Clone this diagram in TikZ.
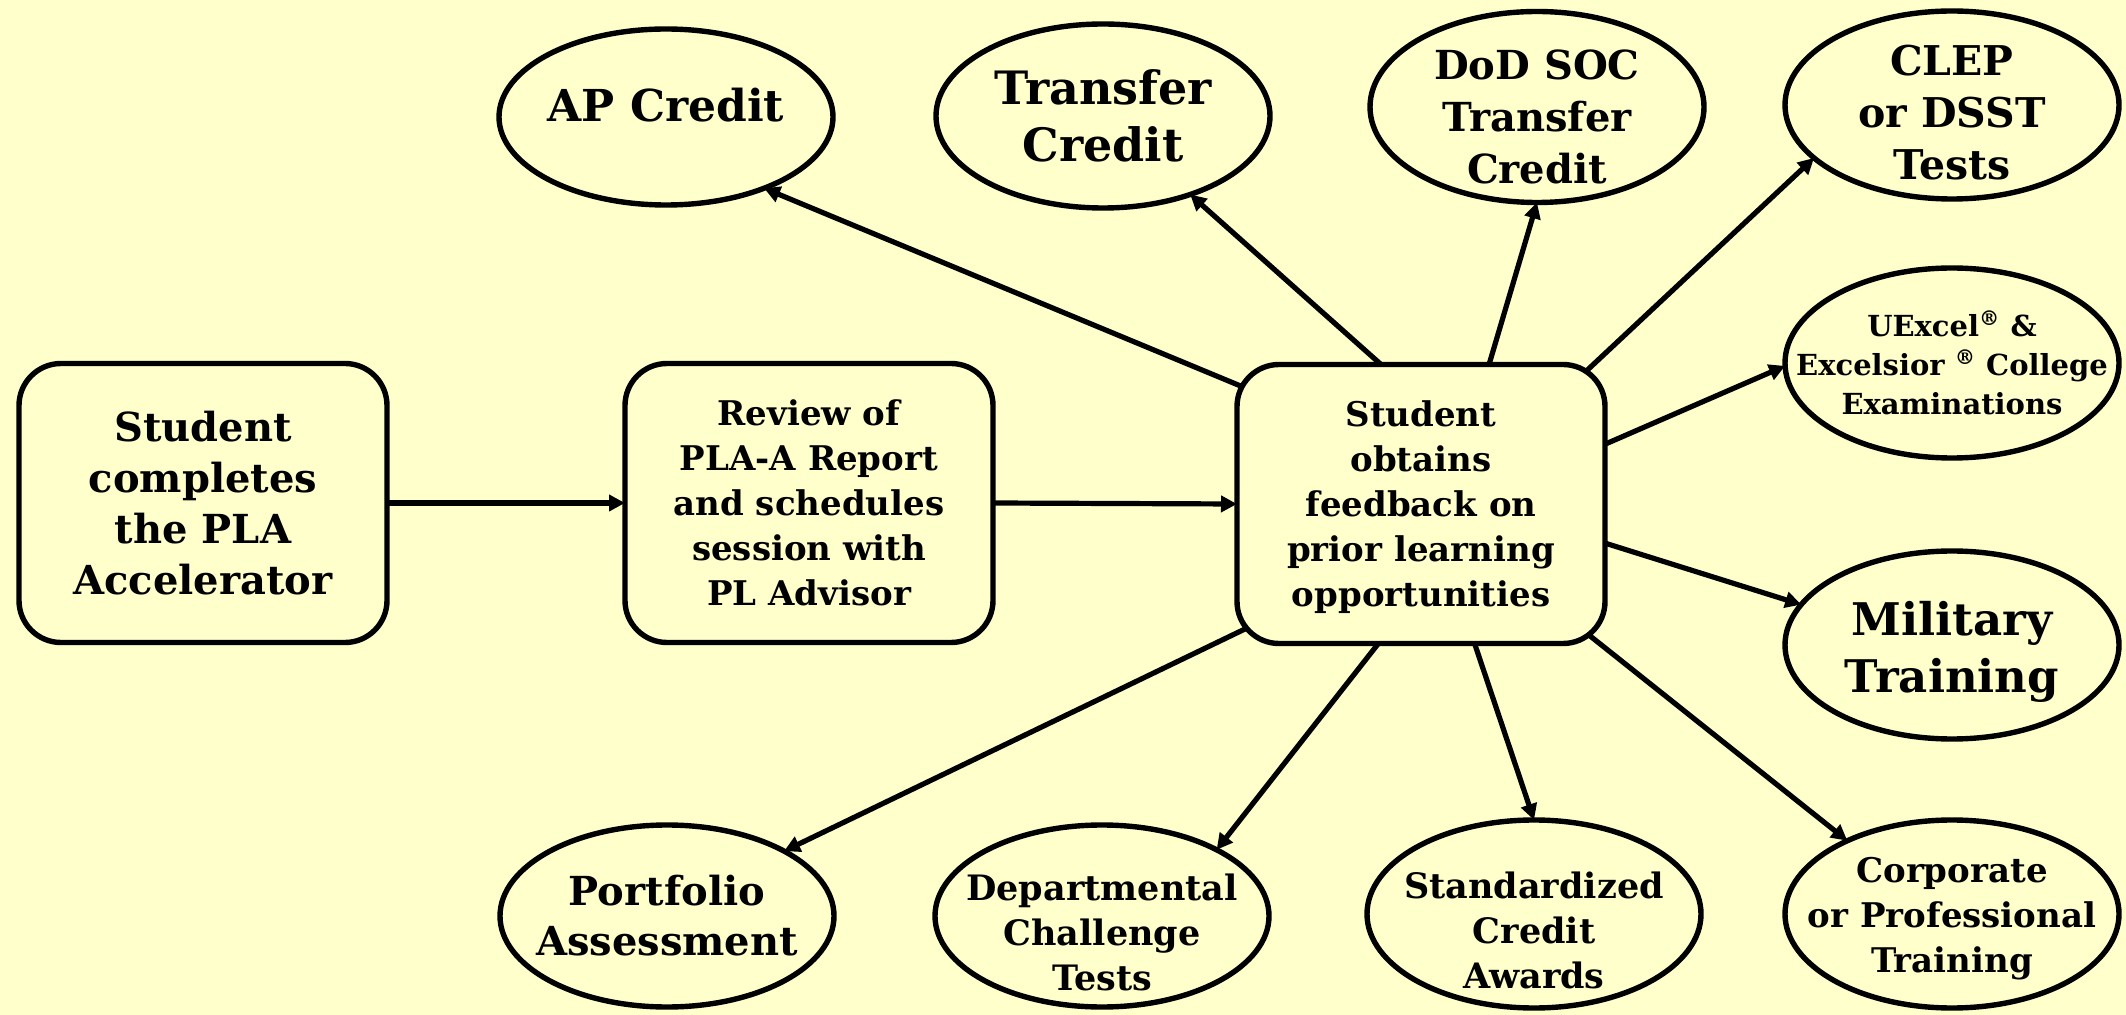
\documentclass[tikz,border=0pt]{standalone}
\usepackage{fontspec}
\setmainfont{DejaVu Serif}
\usetikzlibrary{shapes.geometric,arrows.meta,backgrounds}
\definecolor{bg}{HTML}{FFFFCC}
\newcommand{\fsz}[2]{\fontsize{#1pt}{#2pt}\selectfont\bfseries}
\begin{document}
\begin{tikzpicture}[x=0.5pt,y=-0.5pt,
  box/.style={draw, line width=2.7pt, rounded corners=21pt, fill=bg,
    minimum width=184pt, minimum height=139.5pt, inner sep=0pt, outer sep=0pt, align=center},
  oval/.style={ellipse, draw, line width=2.7pt, fill=bg,
    minimum width=167pt, inner sep=0pt, outer sep=0pt},
  lab/.style={align=center, inner sep=0pt},
  arr/.style={line width=2.6pt, -{Triangle[length=8pt,width=8pt]}},
  harr/.style={arr, shorten <=-12pt},
  ]
\useasboundingbox (0,0) rectangle (2126,1015);
% boxes
\node[box, font=\fsz{20}{25.5}] (b1) at (203,503) {Student\\completes\\the PLA\\Accelerator};
\node[box, font=\fsz{17}{22.5}] (b2) at (809,503) {Review of\\PLA-A Report\\and schedules\\session with\\PL Advisor};
\node[box, font=\fsz{17}{22.5}, text depth=0pt] (b3) at (1421,504) {\raisebox{0pt}{}\vspace{0pt}Student\\obtains\\feedback on\\prior learning\\opportunities};
% ovals
\node[oval, minimum height=88pt, label={[lab, font=\fsz{22}{28}, yshift=6pt]center:AP Credit}] (ap) at (666,117) {};
\node[oval, minimum height=92pt, label={[lab, font=\fsz{23}{28.5}]center:{Transfer\\Credit}}] (tr) at (1103,116) {};
\node[oval, minimum height=95.5pt, label={[lab, font=\fsz{20}{26}, yshift=-5pt]center:{DoD SOC\\Transfer\\Credit}}] (dod) at (1537,107) {};
\node[oval, minimum height=94pt, label={[lab, font=\fsz{20.5}{26}, yshift=-4pt]center:{CLEP\\or DSST\\Tests}}] (clep) at (1952,105) {};
\node[oval, minimum height=95pt, label={[lab, font=\fsz{14.5}{19.5}]center:{UExcel\textsuperscript{®} \&\\Excelsior \textsuperscript{®} College\\Examinations}}] (ux) at (1952,363) {};
\node[oval, minimum height=94pt, label={[lab, font=\fsz{22.5}{28.5}, yshift=-3.5pt]center:{Military\\Training}}] (mil) at (1952,645) {};
\node[oval, minimum height=94pt, label={[lab, font=\fsz{17}{22.5}, yshift=-2.5pt]center:{Corporate\\or Professional\\Training}}] (corp) at (1952,914) {};
\node[oval, minimum height=94pt, label={[lab, font=\fsz{17.5}{22.5}, yshift=-8pt]center:{Standardized\\Credit\\Awards}}] (std) at (1534,914) {};
\node[oval, minimum height=91pt, label={[lab, font=\fsz{17.5}{22.5}, yshift=-8pt]center:{Departmental\\Challenge\\Tests}}] (dep) at (1102,916) {};
\node[oval, minimum height=91pt, label={[lab, font=\fsz{20}{25}]center:{Portfolio\\Assessment}}] (port) at (667,916) {};
% connectors
\begin{scope}[on background layer]
\fill[bg] (0,0) rectangle (2126,1015);
\draw[arr] (b1.east) -- (b2.west);
\draw[arr] (b2.east) -- (b3.west);
\draw[harr] (b3.147) -- (ap.-36);
\draw[harr] (b3.106) -- (tr.-42);
\draw[harr] (b3.64) -- (dod.-90);
\draw[harr] (b3.39) -- (clep.-159);
\draw[harr] (b3.18) -- (ux.181);
\draw[harr] (b3.-12) -- (mil.165);
\draw[harr] (b3.-38) -- (corp.145);
\draw[harr] (b3.-69) -- (std.90);
\draw[harr] (b3.-107) -- (dep.30);
\draw[harr] (b3.-145) -- (port.29);
\end{scope}
\end{tikzpicture}
\end{document}
